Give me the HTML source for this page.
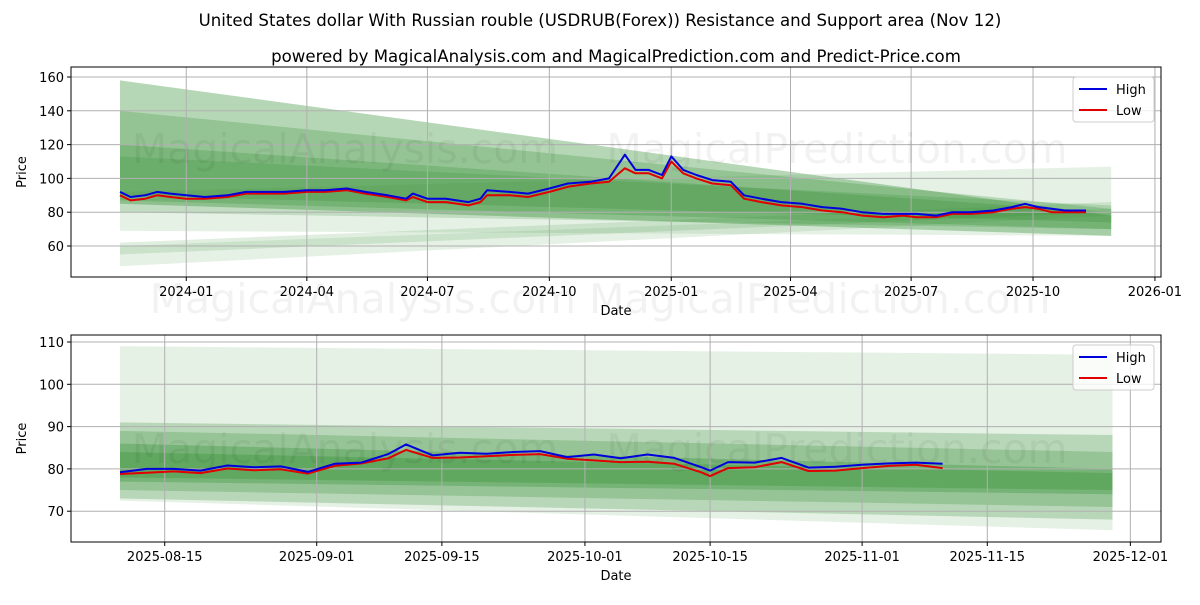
<!DOCTYPE html>
<html><head><meta charset="utf-8"><style>
body{margin:0;background:#fff;font-family:"Liberation Sans","DejaVu Sans",sans-serif}
svg text{font-family:"DejaVu Sans","Liberation Sans",sans-serif}
</style></head><body>
<svg id="s" width="1200" height="600" xmlns="http://www.w3.org/2000/svg">
<rect width="1200" height="600" fill="#fff"/>
<text x="600" y="26" text-anchor="middle" font-size="16.6">United States dollar With Russian rouble (USDRUB(Forex)) Resistance and Support area (Nov 12)</text>
<text x="616" y="62" text-anchor="middle" font-size="16.6">powered by MagicalAnalysis.com and MagicalPrediction.com and Predict-Price.com</text>
</svg>
<script>
const topHighDates=["2023-11-12","2023-11-20","2023-12-01","2023-12-10","2023-12-20","2024-01-01","2024-01-15","2024-02-01","2024-02-15","2024-03-01","2024-03-15","2024-04-01","2024-04-15","2024-05-01","2024-05-15","2024-06-01","2024-06-15","2024-06-20","2024-07-01","2024-07-15","2024-08-01","2024-08-10","2024-08-15","2024-09-01","2024-09-15","2024-10-01","2024-10-15","2024-11-01","2024-11-15","2024-11-27","2024-12-05","2024-12-15","2024-12-25","2025-01-01","2025-01-10","2025-01-20","2025-02-01","2025-02-15","2025-02-25","2025-03-10","2025-03-25","2025-04-10","2025-04-25","2025-05-10","2025-05-25","2025-06-10","2025-06-25","2025-07-05","2025-07-20","2025-08-01","2025-08-15","2025-09-01","2025-09-15","2025-09-25","2025-10-05","2025-10-15","2025-10-25","2025-11-10"];
const topHigh=[92,89,90,92,91,90,89,90,92,92,92,93,93,94,92,90,88,91,88,88,86,88,93,92,91,94,97,98,100,114,105,105,102,113,105,102,99,98,90,88,86,85,83,82,80,79,79,79,78,80,80,81,83,85,83,82,81,81];
const topLow=[90,87,88,90,89,88,88,89,91,91,91,92,92,93,91,89,87,89,86,86,84,86,90,90,89,92,95,97,98,106,103,103,100,110,103,100,97,96,88,86,84,83,81,80,78,77,78,77,77,79,79,80,82,83,82,80,80,80];
const topTicksY=[60,80,100,120,140,160];
const topTicksX=["2024-01","2024-04","2024-07","2024-10","2025-01","2025-04","2025-07","2025-10","2026-01"];
// bands: [lowStart, highStart, lowEnd, highEnd, opacity]
const topBands=[[69,92,66,107,0.12],[85,158,66,78,0.35],[87,140,70,82,0.25],[90,120,74,80,0.25],[80,113,70,84,0.2],[48,60,78,82,0.12],[55,62,80,86,0.15]];
const botDays=[0,3,6,9,12,15,18,21,24,27,30,32,35,38,41,44,47,50,53,56,59,62,65,66,68,71,74,77,80,83,86,89,92];
const botHigh=[79.2,80.0,80.0,79.6,80.8,80.4,80.6,79.3,81.2,81.5,83.5,85.8,83.2,83.8,83.6,84.0,84.2,82.8,83.4,82.5,83.4,82.6,80.4,79.6,81.6,81.5,82.6,80.3,80.5,81.0,81.3,81.5,81.2];
const botLow=[78.8,79.1,79.4,79.0,80.1,79.7,79.9,78.9,80.7,81.3,82.5,84.5,82.6,82.7,83.0,83.3,83.5,82.4,82.0,81.6,81.7,81.2,79.2,78.3,80.2,80.4,81.6,79.5,79.6,80.2,80.7,81.0,80.2];
const botTicksY=[70,80,90,100,110];
const botTicksX=["2025-08-15","2025-09-01","2025-09-15","2025-10-01","2025-10-15","2025-11-01","2025-11-15","2025-12-01"];
const botBands=[[72.5,109,65.5,107,0.12],[73,91,68,88,0.25],[75,89,71,84,0.25],[77,86,74,80,0.3],[78,84,75,79,0.3]];

const NS="http://www.w3.org/2000/svg";const svg=document.getElementById('s');
function mk(t,a,p){const e=document.createElementNS(NS,t);for(const k in a)e.setAttribute(k,a[k]);(p||svg).appendChild(e);return e;}
const day=s=>Date.parse(s.length==7?s+"-01":s)/864e5;

function panel(o){
  const g=mk('g',{});
  
  
  const X=d=>o.x0+(d-o.d0)*o.pxd, Y=v=>o.yTop+(o.vTop-v)*o.pxv;
  const dStart=o.d0, dEnd=o.dEnd;
  o.bands.forEach((b,i)=>{
    const p=mk('polygon',{points:`${X(dStart)},${Y(b[1])} ${X(dEnd)},${Y(b[3])} ${X(dEnd)},${Y(b[2])} ${X(dStart)},${Y(b[0])}`,fill:'#2e8b2e','fill-opacity':b[4]},g);
    
    
  });
  o.ty.forEach(v=>{const y=Y(v);
    mk('line',{x1:o.L,x2:o.R,y1:y,y2:y,stroke:'#b0b0b0','stroke-width':1},g);
    mk('line',{x1:o.L-4,x2:o.L,y1:y,y2:y,stroke:'#000'},g);
    const t=mk('text',{x:o.L-7,y:y+5,'text-anchor':'end','font-size':13},g);t.textContent=v;
    
    });
  o.tx.forEach(s=>{const x=X(day(s));
    mk('line',{x1:x,x2:x,y1:o.T,y2:o.B,stroke:'#b0b0b0','stroke-width':1},g);
    mk('line',{x1:x,x2:x,y1:o.B,y2:o.B+4,stroke:'#000'},g);
    const t=mk('text',{x:x,y:o.B+19,'text-anchor':'middle','font-size':13},g);t.textContent=s;
    
    });
  const wm=[["MagicalAnalysis.com",345,o.wmY],["MagicalPrediction.com",837,o.wmY]];
  wm.forEach(w=>{const t=mk('text',{x:w[1],y:w[2],'text-anchor':'middle','font-size':41,fill:'#000','fill-opacity':0.05},g);t.textContent=w[0];
    
    });
  [[o.lowD,o.low,'#e00000','low-line'],[o.highD,o.high,'#0000dd','high-line']].forEach(s=>{
    const pts=s[1].map((v,i)=>X(s[0][i]).toFixed(1)+','+Y(v).toFixed(1)).join(' ');
    const l=mk('polyline',{points:pts,fill:'none',stroke:s[2],'stroke-width':2,'stroke-linejoin':'round'},g);
    
    
  });
  mk('rect',{x:o.L,y:o.T,width:o.R-o.L,height:o.B-o.T,fill:'none',stroke:'#000','stroke-width':1},g);
  const xl=mk('text',{x:(o.L+o.R)/2,y:o.B+38,'text-anchor':'middle','font-size':13},g);xl.textContent='Date';
  
  
  const yl=mk('text',{x:0,y:0,'text-anchor':'middle','font-size':13,transform:`translate(26,${(o.T+o.B)/2}) rotate(-90)`},g);yl.textContent='Price';
  
  
  const lg=mk('g',{},g);
  
  
  mk('rect',{x:1073,y:o.T+10,width:81,height:45,rx:3,fill:'#fff','fill-opacity':0.8,stroke:'#ccc'},lg);
  [['High','#0000dd',22],['Low','#e00000',43]].forEach(e=>{
    mk('line',{x1:1079,x2:1107,y1:o.T+e[2],y2:o.T+e[2],stroke:e[1],'stroke-width':2},lg);
    const t=mk('text',{x:1116,y:o.T+e[2]+5,'font-size':13},lg);t.textContent=e[0];
    
    
  });
}
const t0=day("2023-11-12");
panel({name:'top-chart',L:71,R:1161,T:67,B:277,x0:120,d0:t0,dEnd:day("2025-11-29"),pxd:485/366,yTop:77,vTop:160,pxv:169/100,
  ty:topTicksY,tx:topTicksX,bands:topBands,highD:topHighDates.map(day),high:topHigh,lowD:topHighDates.map(day),low:topLow,wmY:163});
const b0=day("2025-08-10");
panel({name:'bottom-chart',L:71,R:1161,T:335,B:542,x0:120,d0:b0,dEnd:day("2025-11-29"),pxd:152/17,yTop:342,vTop:110,pxv:4.23,
  ty:botTicksY,tx:botTicksX,bands:botBands,highD:botDays.map(d=>b0+d),high:botHigh,lowD:botDays.map(d=>b0+d),low:botLow,wmY:463});
const w=mk('text',{x:600,y:313,'text-anchor':'middle','font-size':41,fill:'#000','fill-opacity':0.05});
w.textContent='MagicalAnalysis.com          MagicalPrediction.com';


</script>
</body></html>
